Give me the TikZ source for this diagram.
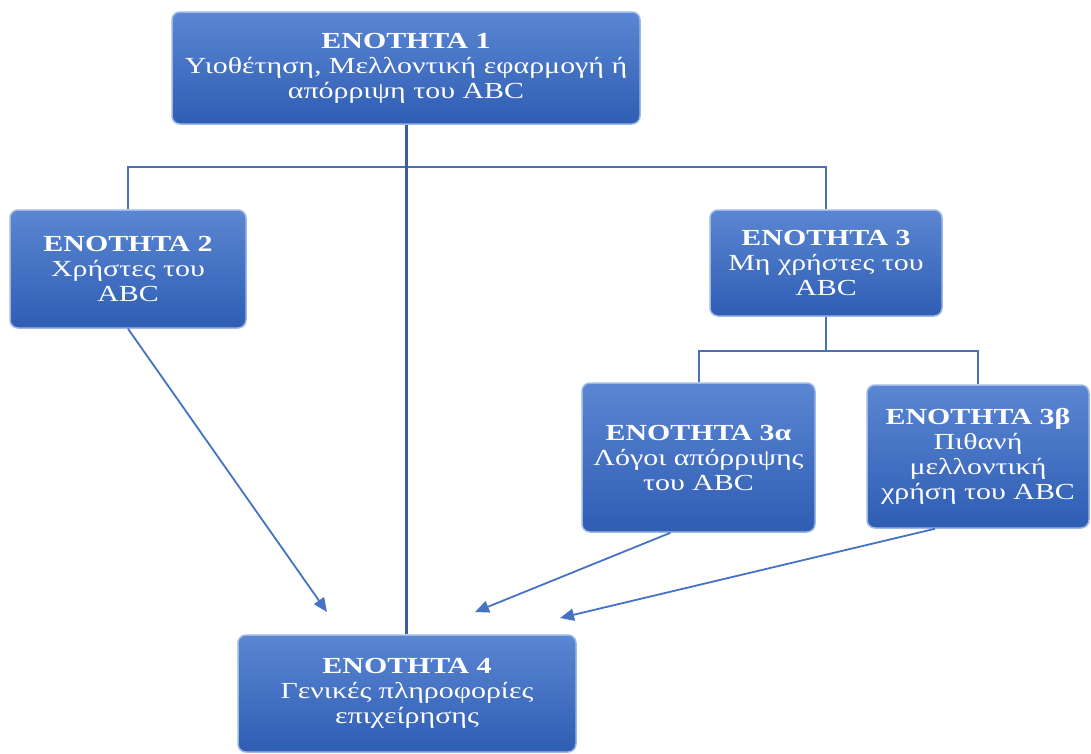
\documentclass[tikz,border=0pt]{standalone}
\usepackage{fontspec}
\setmainfont{Liberation Serif}[FakeStretch=1.3, BoldFont={Liberation Serif Bold}, BoldFeatures={FakeStretch=1.3}]
\usetikzlibrary{arrows.meta,calc}
\definecolor{boxtop}{HTML}{5A86D2}
\definecolor{boxbot}{HTML}{2F5DB3}
\definecolor{boxedge}{HTML}{9DB8E6}
\definecolor{treeline}{HTML}{4A6FB5}
\definecolor{mainline}{HTML}{3D5E9E}
\definecolor{arrowblue}{HTML}{4472C4}
\tikzset{
  unitbox/.style={rounded corners=8pt, top color=boxtop, bottom color=boxbot,
    draw=boxedge, line width=1.5pt, text=white, align=center, inner sep=0pt,
    font=\fontsize{23}{25}\selectfont},
  treelink/.style={draw=treeline, line width=2pt},
  mainlink/.style={draw=mainline, line width=3pt},
  flowarrow/.style={draw=arrowblue, line width=1.8pt, -{Triangle[length=14pt,width=12pt]}}
}
\begin{document}
\begin{tikzpicture}[x=1pt,y=-1pt]
\useasboundingbox (0,0) rectangle (1091,753);
\node[unitbox, minimum width=468pt, minimum height=112pt] (b1) at (406,68)
  {\textbf{ΕΝΟΤΗΤΑ 1}\\Υιοθέτηση, Μελλοντική εφαρμογή ή\\απόρριψη του ABC};
\node[unitbox, minimum width=236pt, minimum height=118pt] (b2) at (128,269)
  {\textbf{ΕΝΟΤΗΤΑ 2}\\Χρήστες του\\ABC};
\node[unitbox, minimum width=232pt, minimum height=106pt] (b3) at (826,263)
  {\textbf{ΕΝΟΤΗΤΑ 3}\\Μη χρήστες του\\ABC};
\node[unitbox, minimum width=233pt, minimum height=149pt] (b3a) at (698.5,457.5)
  {\textbf{ΕΝΟΤΗΤΑ 3α}\\Λόγοι απόρριψης\\του ABC};
\node[unitbox, minimum width=222pt, minimum height=143pt] (b3b) at (978,456.5)
  {\textbf{ΕΝΟΤΗΤΑ 3β}\\Πιθανή\\μελλοντική\\χρήση του ABC};
\node[unitbox, minimum width=338pt, minimum height=117pt] (b4) at (407,693.5)
  {\textbf{ΕΝΟΤΗΤΑ 4}\\Γενικές πληροφορίες\\επιχείρησης};
% tree links
\draw[treelink] (b2.north) -- ++(0,-42) -| (b3.north);
\draw[treelink] (b3.south) -- ++(0,34) coordinate (j3);
\draw[treelink] (b3a.north) |- (j3) -| (b3b.north);
\draw[mainlink] (b1.south) -- (b1.south |- b4.north);
% arrows
\coordinate (e2) at (327,612);
\coordinate (e3a) at (475,612);
\coordinate (e3b) at (560,618);
\draw[flowarrow] (b2.south) -- (e2);
\draw[flowarrow] ($(b3a.south)+(-28,0)$) -- (e3a);
\draw[flowarrow] ($(b3b.south)+(-43,0)$) -- (e3b);
\end{tikzpicture}
\end{document}
